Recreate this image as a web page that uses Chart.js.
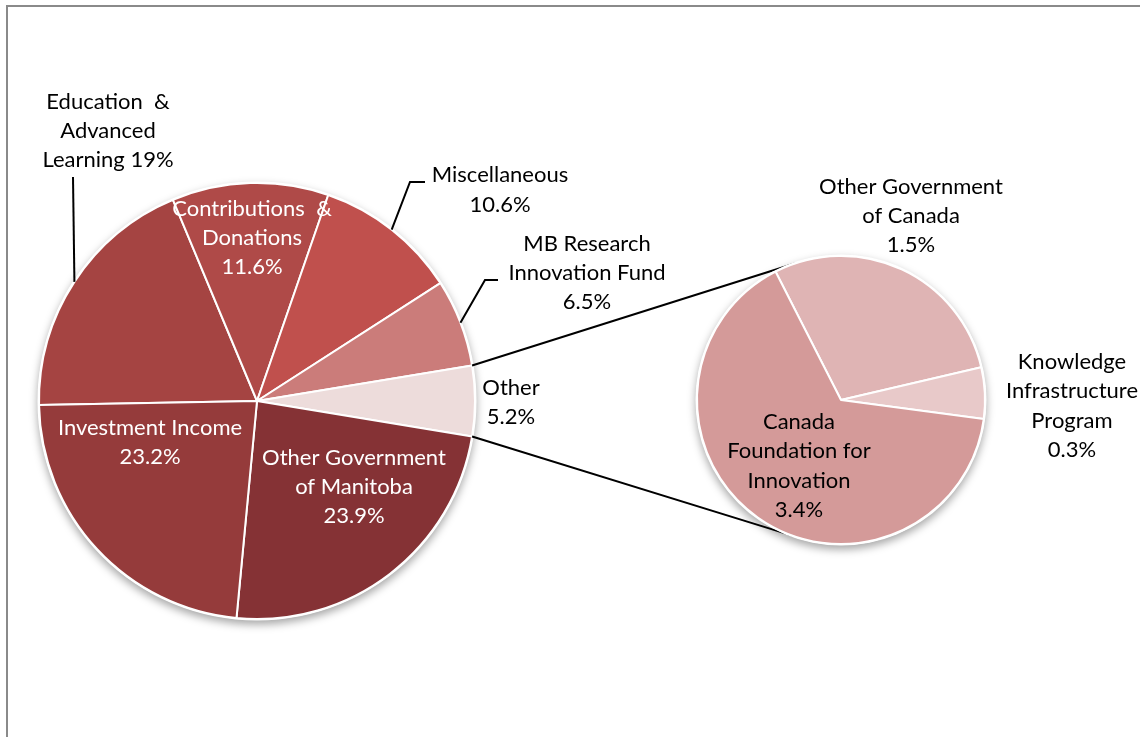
<!DOCTYPE html>
<html>
<head>
<meta charset="utf-8">
<script src="https://cdn.jsdelivr.net/npm/chart.js@4"></script>
<style>
  html, body { margin: 0; padding: 0; background: #fff; }
  #wrap { position: relative; width: 1140px; height: 737px; overflow: hidden; }
  #frame { position: absolute; left: 6px; top: 5px; width: 1200px; height: 800px;
           border-top: 2px solid #8a8a8a; border-left: 2px solid #8a8a8a; }
  canvas { position: absolute; left: 0; top: 0; }
</style>
</head>
<body>
<div id="wrap">
  <div id="frame"></div>
  <canvas id="mainPie" width="1140" height="737"></canvas>
  <canvas id="detailPie" width="1140" height="737"></canvas>
</div>
<script>
// Revenue sources (%), main pie
const mainCategories = [
  ['Education  &', 'Advanced', 'Learning'],
  ['Contributions  &', 'Donations'],
  ['Miscellaneous'],
  ['MB Research', 'Innovation Fund'],
  ['Other'],
  ['Other Government', 'of Manitoba'],
  ['Investment Income']
];
const mainValues = [19, 11.6, 10.6, 6.5, 5.2, 23.9, 23.2];
const mainColors = ['#A54442', '#AF4A48', '#C0504D', '#CB7C7A', '#EDDCDB', '#853235', '#953B3B'];

// Breakdown of "Other"
const detailCategories = [
  ['Other Government', 'of Canada'],
  ['Knowledge', 'Infrastructure', 'Program'],
  ['Canada', 'Foundation for', 'Innovation']
];
const detailValues = [1.5, 0.3, 3.4];
const detailColors = ['#DFB4B4', '#E8C9C9', '#D49A99'];

const OTHER_INDEX = 4;
const FONT = '22px Lato';
const LINE_H = 29.3;

// label block placement relative to the pie centre, plus optional leader elbows
const mainLabelLayout = [
  { dx: -149, dy: -270, color: '#000', inline: true, leader: [[-184, -224]] },
  { dx: -5, dy: -163, color: '#fff' },
  { dx: 243, dy: -211, color: '#000', leader: [[153, -219], [168, -219]] },
  { dx: 330, dy: -128, color: '#000', leader: [[228, -121], [241, -121]] },
  { dx: 254, dy: 1.5, color: '#000' },
  { dx: 97, dy: 86, color: '#fff' },
  { dx: -107, dy: 41.5, color: '#fff' }
];
const detailLabelLayout = [
  { dx: 70, dy: -184, color: '#000' },
  { dx: 231, dy: 6, color: '#000' },
  { dx: -42, dy: 66, color: '#000' }
];

function labelLines(cat, value, inline) {
  const lines = cat.slice();
  const pct = value + '%';
  if (inline) lines[lines.length - 1] += ' ' + pct;
  else lines.push(pct);
  return lines;
}

function arcProps(chart, i) {
  return chart.getDatasetMeta(0).data[i].getProps(['x', 'y', 'startAngle', 'endAngle', 'outerRadius'], true);
}

// soft drop shadow behind the whole pie
const pieShadow = {
  id: 'pieShadow',
  beforeDatasetsDraw(chart) {
    const a = arcProps(chart, 0);
    const ctx = chart.ctx;
    ctx.save();
    ctx.shadowColor = 'rgba(0,0,0,0.35)';
    ctx.shadowBlur = 9;
    ctx.shadowOffsetY = 4;
    ctx.fillStyle = '#fff';
    ctx.beginPath();
    ctx.arc(a.x, a.y, a.outerRadius + 1.5, 0, Math.PI * 2);
    ctx.fill();
    ctx.restore();
  }
};

function makeLabelPlugin(categories, values, layout) {
  return {
    id: 'sliceLabels',
    afterDatasetsDraw(chart) {
      const ctx = chart.ctx;
      ctx.save();
      ctx.font = FONT;
      ctx.textAlign = 'center';
      ctx.textBaseline = 'middle';
      layout.forEach((l, i) => {
        const a = arcProps(chart, i);
        const lines = labelLines(categories[i], values[i], l.inline);
        const top = a.y + l.dy - (lines.length - 1) * LINE_H / 2;
        ctx.fillStyle = l.color;
        lines.forEach((t, k) => ctx.fillText(t, a.x + l.dx, top + k * LINE_H));
        if (l.leader) {
          const mid = (a.startAngle + a.endAngle) / 2;
          ctx.strokeStyle = '#000';
          ctx.lineWidth = 2;
          ctx.beginPath();
          const sx = a.x + Math.cos(mid) * a.outerRadius;
          ctx.moveTo(sx, a.y + Math.sin(mid) * a.outerRadius);
          l.leader.forEach(p => ctx.lineTo(a.x + p[0], a.y + p[1]));
          ctx.stroke();
        }
      });
      ctx.restore();
    }
  };
}

const baseOptions = {
  responsive: false,
  animation: false,
  events: [],
  plugins: { legend: { display: false }, tooltip: { enabled: false } }
};

const mainOtherSpan = mainValues[OTHER_INDEX] / 100 * 360;
const mainBefore = mainValues.slice(0, OTHER_INDEX).reduce((s, v) => s + v, 0) / 100 * 360;

const mainChart = new Chart(document.getElementById('mainPie'), {
  type: 'pie',
  data: {
    labels: mainCategories,
    datasets: [{
      data: mainValues,
      backgroundColor: mainColors,
      borderColor: '#fff',
      borderWidth: 2
    }]
  },
  options: Object.assign({}, baseOptions, {
    // "Other" slice centred on the right, facing the breakdown pie
    rotation: 90 - mainOtherSpan / 2 - mainBefore,
    radius: 218,
    layout: { padding: { left: 0, right: 626, top: 65, bottom: 0 } }
  }),
  plugins: [pieShadow, makeLabelPlugin(mainCategories, mainValues, mainLabelLayout)]
});

// lines joining the "Other" slice to the breakdown pie
const connectors = {
  id: 'connectors',
  beforeDatasetsDraw(chart) {
    const o = arcProps(mainChart, OTHER_INDEX);
    const d = arcProps(chart, 0);
    const tA = -108 * Math.PI / 180, bA = 109 * Math.PI / 180;
    const ctx = chart.ctx;
    ctx.save();
    ctx.strokeStyle = '#000';
    ctx.lineWidth = 2;
    ctx.beginPath();
    ctx.moveTo(o.x + Math.cos(o.startAngle) * o.outerRadius, o.y + Math.sin(o.startAngle) * o.outerRadius);
    ctx.lineTo(d.x + Math.cos(tA) * d.outerRadius, d.y + Math.sin(tA) * d.outerRadius);
    ctx.moveTo(o.x + Math.cos(o.endAngle) * o.outerRadius, o.y + Math.sin(o.endAngle) * o.outerRadius);
    ctx.lineTo(d.x + Math.cos(bA) * d.outerRadius, d.y + Math.sin(bA) * d.outerRadius);
    ctx.stroke();
    ctx.restore();
  }
};

new Chart(document.getElementById('detailPie'), {
  type: 'pie',
  data: {
    labels: detailCategories,
    datasets: [{
      data: detailValues,
      backgroundColor: detailColors,
      borderColor: '#fff',
      borderWidth: 2
    }]
  },
  options: Object.assign({}, baseOptions, {
    rotation: -27,
    radius: 144,
    layout: { padding: { left: 542, right: 0, top: 63, bottom: 0 } }
  }),
  plugins: [connectors, pieShadow, makeLabelPlugin(detailCategories, detailValues, detailLabelLayout)]
});
</script>
</body>
</html>
